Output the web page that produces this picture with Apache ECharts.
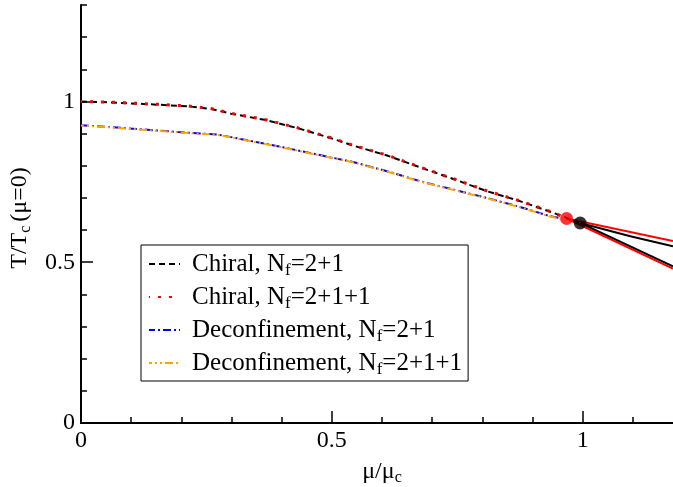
<!DOCTYPE html>
<html>
<head>
<meta charset="utf-8">
<script src="https://cdn.jsdelivr.net/npm/echarts@6/dist/echarts.min.js"></script>
<style>html,body{margin:0;padding:0;background:#fff}#c{width:673px;height:487px}</style>
</head>
<body>
<div id="c"></div>
<script>
// mu/mu_c values and T/Tc(mu=0) values
var chiralMu   = [0, 0.060, 0.153, 0.213, 0.259, 0.299, 0.366, 0.432, 0.498, 0.542, 0.610, 0.676, 0.742, 0.809, 0.875, 0.941, 0.995];
var chiral21   = [1.000, 0.997, 0.990, 0.985, 0.977, 0.962, 0.943, 0.917, 0.886, 0.863, 0.832, 0.795, 0.759, 0.721, 0.690, 0.654, 0.622];
var chiral211Mu = [0, 0.060, 0.153, 0.213, 0.259, 0.299, 0.366, 0.432, 0.498, 0.542, 0.610, 0.676, 0.742, 0.809, 0.875, 0.941, 0.968];
var chiral211  = [1.000, 0.998, 0.991, 0.986, 0.978, 0.963, 0.944, 0.918, 0.887, 0.864, 0.833, 0.796, 0.760, 0.722, 0.691, 0.655, 0.636];
var deconfMu   = [0, 0.080, 0.193, 0.273, 0.326, 0.392, 0.498, 0.542, 0.610, 0.676, 0.742, 0.809, 0.875, 0.935, 0.955];
var deconf21   = [0.926, 0.918, 0.905, 0.897, 0.881, 0.861, 0.826, 0.812, 0.783, 0.752, 0.726, 0.700, 0.672, 0.643, 0.637];
var deconf211  = [0.925, 0.917, 0.904, 0.896, 0.880, 0.860, 0.825, 0.811, 0.782, 0.751, 0.725, 0.699, 0.671, 0.642, 0.636];
// first-order branches beyond the critical end points
var cepBlack   = [0.995, 0.622];
var cepRed     = [0.968, 0.636];
var blackUpperMu = [0.995, 1.095, 1.18];
var blackUpper   = [0.622, 0.581, 0.550];
var blackLowerMu = [0.995, 1.18];
var blackLower   = [0.622, 0.487];
var redUpperMu   = [0.968, 1.18];
var redUpper     = [0.636, 0.566];
var redLowerMu   = [0.968, 1.18];
var redLower     = [0.636, 0.480];
var legendNames  = ['Chiral, Nf=2+1', 'Chiral, Nf=2+1+1', 'Deconfinement, Nf=2+1', 'Deconfinement, Nf=2+1+1'];
var majorTicks   = ['0', '0.5', '1'];

function pairs(xs, ys) { return xs.map(function (x, i) { return [x, ys[i]]; }); }

var FONT = 'Liberation Serif';
var chart = echarts.init(document.getElementById('c'), null, { renderer: 'canvas' });

function solid(xs, ys, color) {
  return { type: 'line', xAxisIndex: 0, yAxisIndex: 0, data: pairs(xs, ys), symbol: 'none', silent: true,
    lineStyle: { color: color, width: 2, type: 'solid' }, z: 3 };
}
function tickFmt(v) { var i = [0, 0.5, 1].indexOf(Math.round(v * 10) / 10); return i >= 0 ? majorTicks[i] : ''; }
var titleRich = { t: { fontFamily: FONT, fontSize: 24, color: '#000', lineHeight: 26 },
                  e: { fontFamily: FONT, fontSize: 24, color: '#000', lineHeight: 26, padding: [0, 8, 0, 4] },
                  s: { fontFamily: FONT, fontSize: 16, color: '#000', lineHeight: 26, padding: [12, 0, 0, 0] } };

var option = {
  animation: false,
  backgroundColor: '#fff',
  grid: { left: 81, right: -10, top: 5, bottom: 64, containLabel: false, outerBoundsMode: 'none' },
  xAxis: [
    { type: 'value', min: 0, max: 1.2, interval: 0.5, position: 'bottom',
      name: '{t|μ/μ}{s|c}', nameLocation: 'middle', nameGap: 36,
      nameTextStyle: { rich: titleRich },
      axisLine: { show: true, onZero: false, lineStyle: { color: '#000', width: 2 } },
      axisTick: { show: true, inside: true, length: 12, lineStyle: { color: '#000', width: 1.5 } },
      axisLabel: { show: true, margin: 6, fontFamily: FONT, fontSize: 24, color: '#000', showMaxLabel: false, formatter: tickFmt },
      splitLine: { show: false } },
    { type: 'value', min: 0, max: 1.2, interval: 0.1, position: 'bottom',
      axisLine: { show: false }, axisLabel: { show: false }, splitLine: { show: false },
      axisTick: { show: true, inside: true, length: 6, lineStyle: { color: '#000', width: 1.5 } } },
    { type: 'value', min: 0, max: 1.2, position: 'top',
      axisLine: { show: true, lineStyle: { color: '#000', width: 2 } }, axisLabel: { show: false }, axisTick: { show: false }, splitLine: { show: false } }
  ],
  yAxis: [
    { type: 'value', min: 0, max: 1.3, interval: 0.5, position: 'left',
      name: '{t|T/T}{s|c}{e|(μ=0)}', nameLocation: 'middle', nameGap: 46, nameRotate: 90,
      nameTextStyle: { rich: titleRich },
      axisLine: { show: true, onZero: false, lineStyle: { color: '#000', width: 2 } },
      axisTick: { show: true, inside: true, length: 12, lineStyle: { color: '#000', width: 1.5 } },
      axisLabel: { show: true, margin: 6, fontFamily: FONT, fontSize: 24, color: '#000', showMaxLabel: false, formatter: tickFmt },
      splitLine: { show: false } },
    { type: 'value', min: 0, max: 1.3, interval: 0.1, position: 'left',
      axisLine: { show: false }, axisLabel: { show: false }, splitLine: { show: false },
      axisTick: { show: true, inside: true, length: 6, lineStyle: { color: '#000', width: 1.5 } } }
  ],
  legend: {
    data: legendNames,
    orient: 'vertical', left: 141, top: 245,
    backgroundColor: '#fff', borderColor: '#000', borderWidth: 1,
    padding: [4, 6, 3, 7], itemGap: 3, itemWidth: 31, itemHeight: 14,
    selectedMode: false,
    itemStyle: { opacity: 0 },
    textStyle: { fontFamily: FONT, fontSize: 25, color: '#000',
      rich: { p: { fontFamily: FONT, fontSize: 25, color: '#000', lineHeight: 26, padding: [0, 0, 0, 7] },
              t: { fontFamily: FONT, fontSize: 25, color: '#000', lineHeight: 26 },
              s: { fontFamily: FONT, fontSize: 17, color: '#000', lineHeight: 26, padding: [13, 0, 0, 0] } } },
    formatter: function (n) { var p = n.split('Nf'); return '{p|' + p[0] + 'N}{s|f}{t|' + p[1] + '}'; }
  },
  series: [
    solid(blackUpperMu, blackUpper, '#000'),
    solid(blackLowerMu, blackLower, '#000'),
    solid(redUpperMu, redUpper, '#ff0000'),
    solid(redLowerMu, redLower, '#ff0000'),
    { name: legendNames[0], type: 'line', data: pairs(chiralMu, chiral21), symbol: 'none',
      lineStyle: { color: '#000', width: 2, type: [6, 4] }, itemStyle: { color: '#000' }, z: 4 },
    { name: legendNames[1], type: 'line', data: pairs(chiral211Mu, chiral211), symbol: 'none',
      lineStyle: { color: '#ff0000', width: 3, type: [3, 8], dashOffset: 2 }, itemStyle: { color: '#ff0000' }, z: 5 },
    { name: legendNames[2], type: 'line', data: pairs(deconfMu, deconf21), symbol: 'none',
      lineStyle: { color: '#0000ff', width: 2, type: [8, 3, 2, 3] }, itemStyle: { color: '#0000ff' }, z: 4 },
    { name: legendNames[3], type: 'line', data: pairs(deconfMu, deconf211), symbol: 'none',
      lineStyle: { color: '#ffa500', width: 2, type: [8, 3, 2, 3, 2, 3], dashOffset: 5 }, itemStyle: { color: '#ffa500' }, z: 5 },
    { type: 'scatter', data: [cepRed], symbolSize: 13, itemStyle: { color: '#ff0000' }, z: 6, silent: true },
    { type: 'scatter', data: [cepBlack], symbolSize: 13, itemStyle: { color: '#000' }, z: 7, silent: true }
  ]
};
chart.setOption(option);
</script>
</body>
</html>
